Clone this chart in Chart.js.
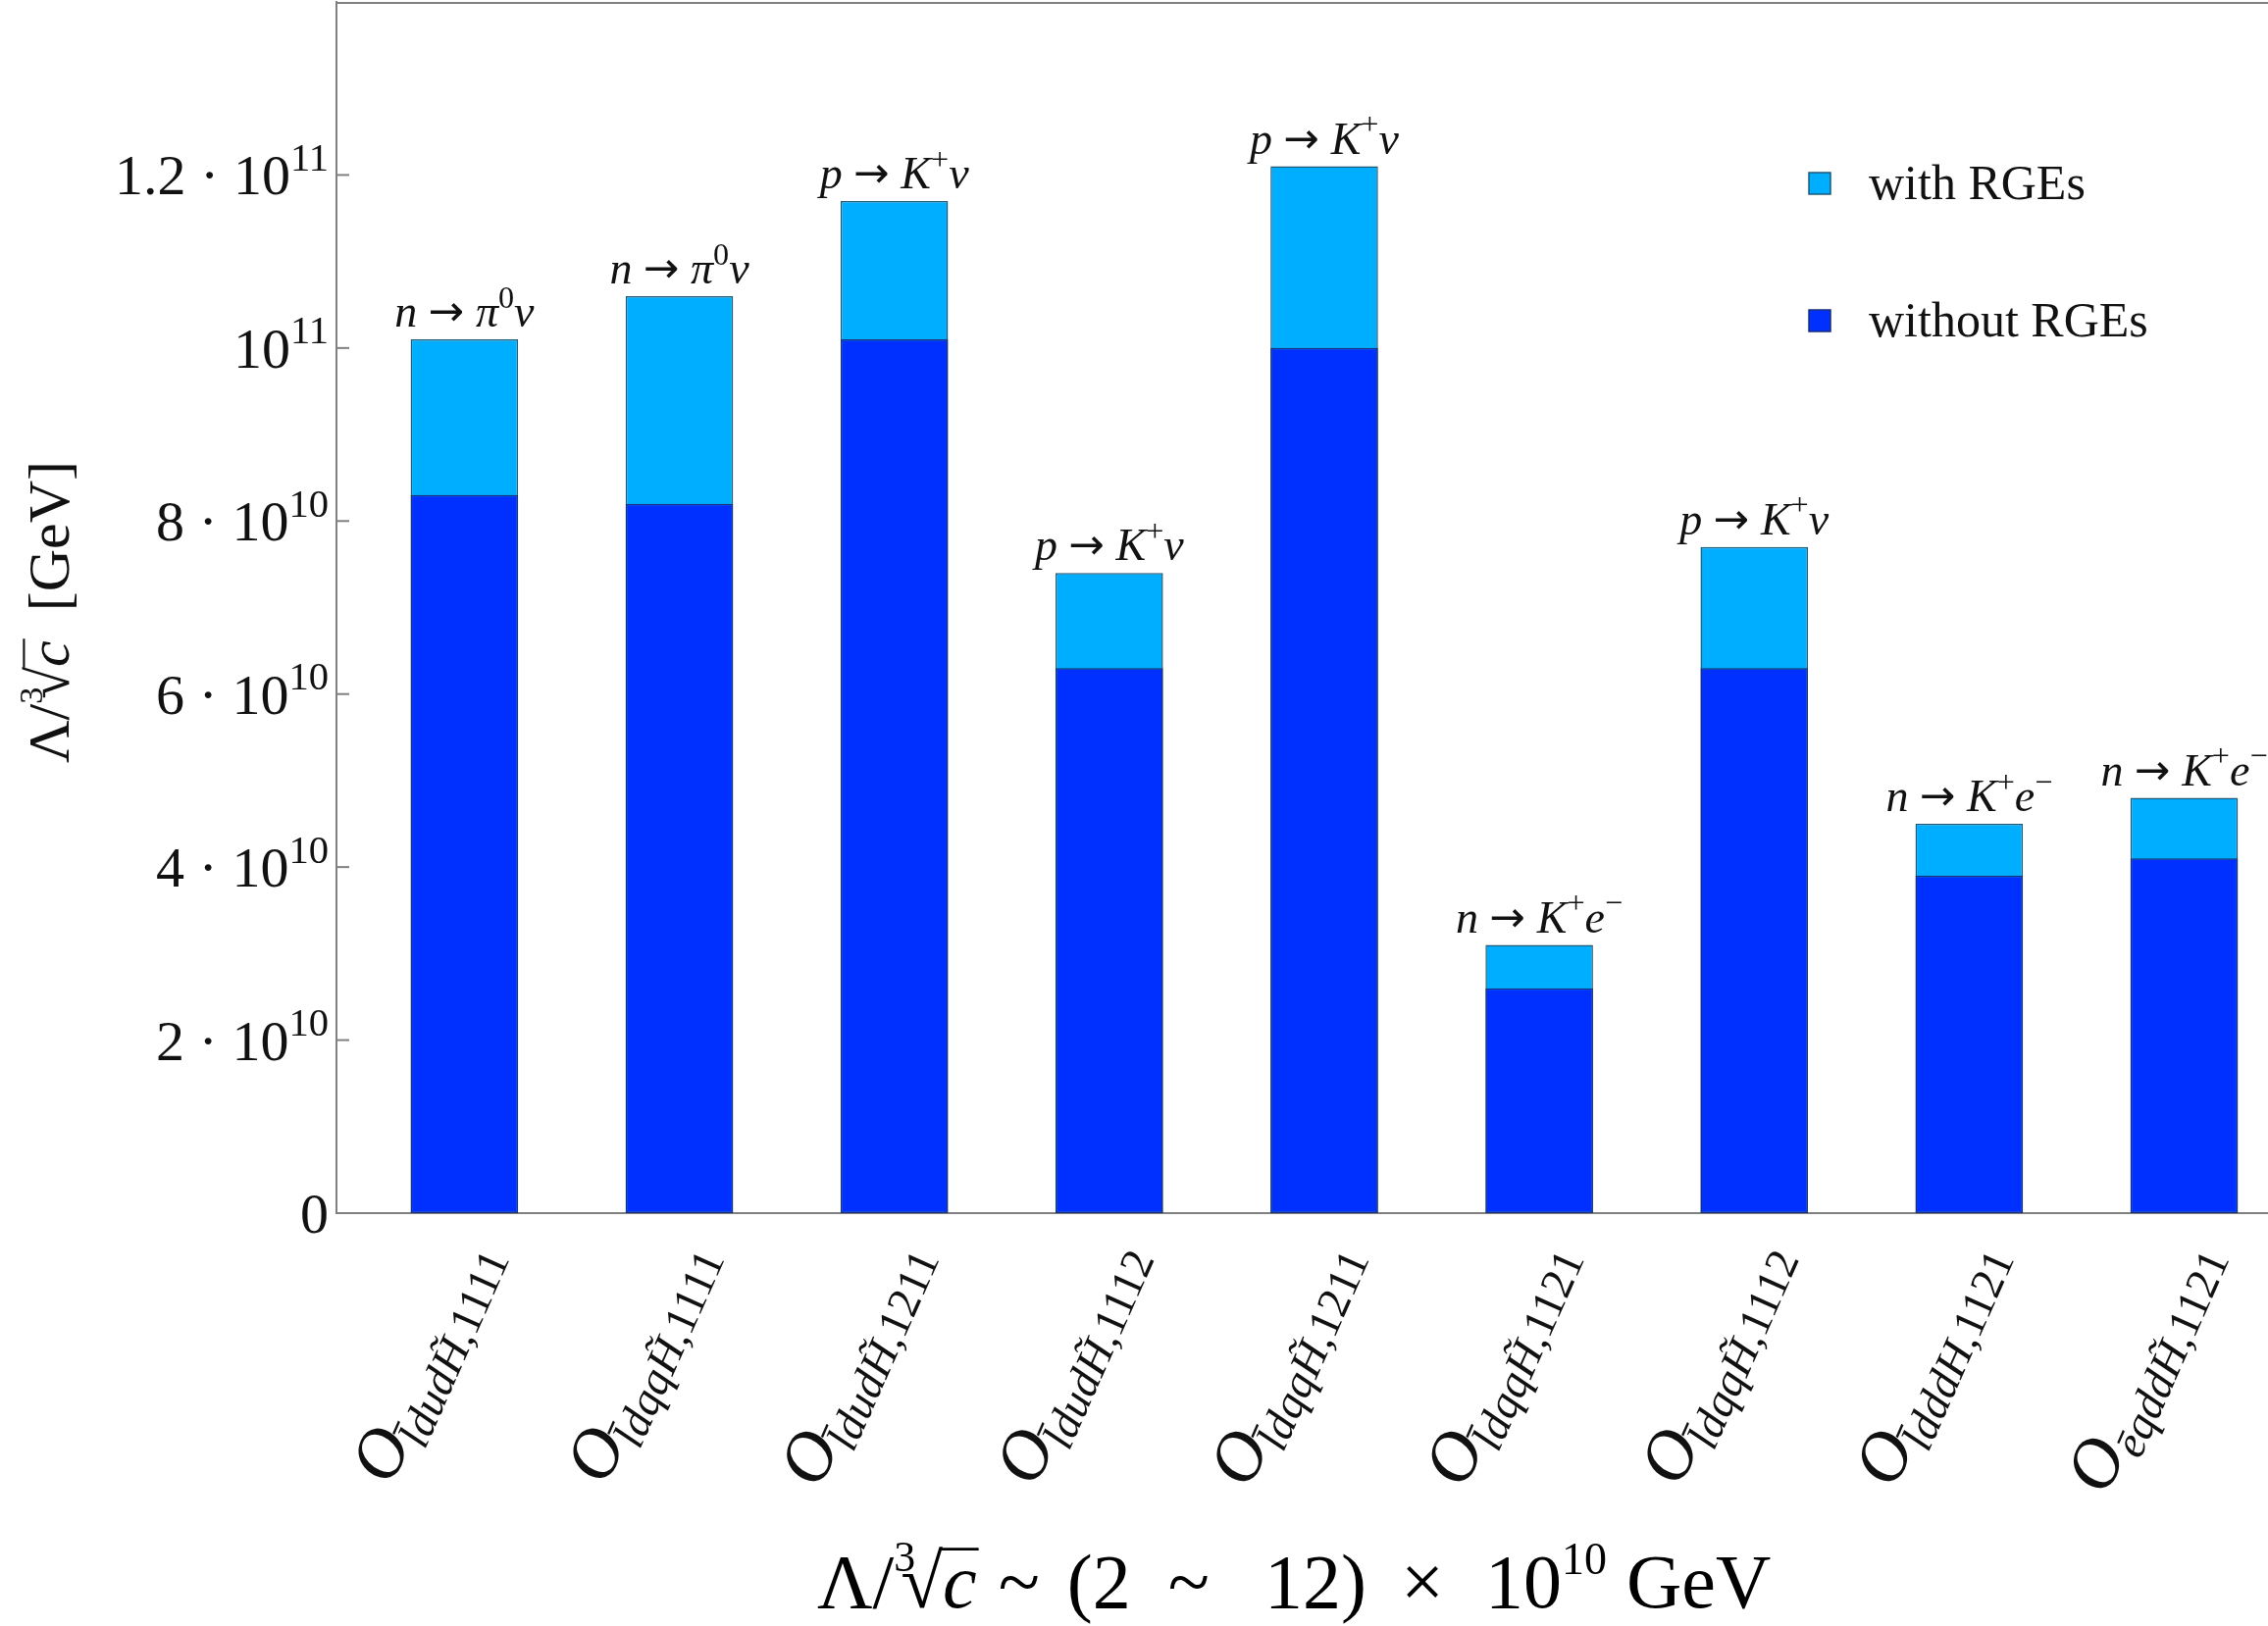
<!DOCTYPE html>
<html>
<head>
<meta charset="utf-8">
<title>Proton and neutron decay bounds</title>
<script src="https://cdn.jsdelivr.net/npm/chart.js@4.4.1/dist/chart.umd.min.js"></script>
<style>
  html, body { margin: 0; padding: 0; background: #ffffff; }
  canvas { display: block; }
</style>
</head>
<body>
<canvas id="chart" width="2312" height="1658"></canvas>
<script>
// Operators (x categories), written with ^{..} / _{..} for super/subscripts
const operators = [
  'O_{l̄dudH̃,1111}',
  'O_{l̄dqqH̃,1111}',
  'O_{l̄dudH̃,1211}',
  'O_{l̄dudH̃,1112}',
  'O_{l̄dqqH̃,1211}',
  'O_{l̄dqqH̃,1121}',
  'O_{l̄dqqH̃,1112}',
  'O_{l̄dddH,1121}',
  'O_{ēqddH̃,1121}'
];
// Dominant decay channel written above each bar
const channels = [
  'n → π^{0}ν',
  'n → π^{0}ν',
  'p → K^{+}ν',
  'p → K^{+}ν',
  'p → K^{+}ν',
  'n → K^{+}e^{−}',
  'p → K^{+}ν',
  'n → K^{+}e^{−}',
  'n → K^{+}e^{−}'
];
// Λ / c^(1/3) in GeV
const withRGEs    = [1.01e11, 1.06e11, 1.17e11, 0.74e11, 1.21e11, 0.31e11, 0.77e11, 0.45e11, 0.48e11];
const withoutRGEs = [0.83e11, 0.82e11, 1.01e11, 0.63e11, 1.00e11, 0.26e11, 0.63e11, 0.39e11, 0.41e11];
const seriesNames = ['with RGEs', 'without RGEs'];
const yTicks = [0, 2e10, 4e10, 6e10, 8e10, 1e11, 1.2e11];

const LIGHT = '#00AEFF';
const DARK = '#0030FF';
const AXIS = '#808080';
const SERIF = '"Liberation Serif", "DejaVu Serif", serif';
const ARROW_FONT = '"DejaVu Sans", sans-serif';

// ---------- small math-text renderer ----------
function parse(str) {
  const out = [];
  let i = 0;
  while (i < str.length) {
    const c = str[i];
    if ((c === '^' || c === '_') && str[i + 1] === '{') {
      const end = str.indexOf('}', i);
      out.push({ s: str.slice(i + 2, end), lvl: c === '^' ? 1 : -1 });
      i = end + 1;
    } else {
      let j = i;
      while (j < str.length && !((str[j] === '^' || str[j] === '_') && str[j + 1] === '{')) j++;
      out.push({ s: str.slice(i, j), lvl: 0 });
      i = j;
    }
  }
  return out;
}
function clusters(s) {
  const out = [];
  for (const ch of Array.from(s)) {
    if (/[\u0300-\u036f]/.test(ch) && out.length) out[out.length - 1] += ch;
    else out.push(ch);
  }
  return out;
}
function styleOf(cl) {
  if (cl === '→') return 'arrow';
  return /^[a-zA-Z\u0100-\u017fα-ω]/.test(cl) ? 'it' : 'rm';
}

function mathRuns(str, size, o) {
  const runs = [];
  for (const tok of parse(str)) {
    const sz = tok.lvl ? size * o.script : size;
    const dy = tok.lvl > 0 ? -size * o.sup : (tok.lvl < 0 ? size * o.sub : 0);
    let cur = null;
    for (const cl of clusters(tok.s)) {
      const st = styleOf(cl);
      if (cur && cur.st === st) cur.text += cl;
      else {
        cur = { text: cl, st, it: st === 'it', size: sz, dy };
        if (st === 'arrow') { cur.fam = ARROW_FONT; cur.size = sz * 0.95; cur.dy = dy - sz * 0.02; }
        runs.push(cur);
      }
    }
  }
  return runs;
}
function runFont(r) { return (r.it ? 'italic ' : '') + r.size + 'px ' + (r.fam || SERIF); }
function measureRuns(ctx, runs) {
  let w = 0;
  for (const r of runs) {
    ctx.font = runFont(r);
    r.w = ctx.measureText(r.text).width + (r.gap || 0);
    w += r.w;
  }
  return w;
}
function drawRuns(ctx, runs, x, y, align) {
  const w = measureRuns(ctx, runs);
  let cx = align === 'right' ? x - w : (align === 'center' ? x - w / 2 : x);
  ctx.textAlign = 'left';
  ctx.textBaseline = 'alphabetic';
  for (const r of runs) {
    ctx.font = runFont(r);
    ctx.fillText(r.text, cx, y + (r.dy || 0));
    if (r.over) {
      const oy = y - r.size * r.over;
      ctx.save();
      ctx.lineWidth = Math.max(2, r.size * 0.035);
      ctx.strokeStyle = ctx.fillStyle;
      ctx.beginPath();
      ctx.moveTo(cx - 1, oy);
      ctx.lineTo(cx + r.w - (r.gap || 0) + 2, oy);
      ctx.stroke();
      ctx.restore();
    }
    cx += r.w;
  }
  return w;
}
function tickText(v) {
  if (v === 0) return '0';
  const e = Math.floor(Math.log10(v) + 1e-9);
  const m = Math.round(v / Math.pow(10, e) * 10) / 10;
  return (m === 1 ? '' : m + ' · ') + '10^{' + e + '}';
}

// ---------- decorations drawn on top of the chart ----------
const decor = {
  id: 'decor',
  afterDraw(chart) {
    const { ctx, chartArea: a, scales: { x, y } } = chart;
    ctx.save();

    // top frame line
    ctx.strokeStyle = AXIS;
    ctx.lineWidth = 2;
    ctx.beginPath();
    ctx.moveTo(a.left - 1, a.top + 1);
    ctx.lineTo(a.right, a.top + 1);
    ctx.stroke();

    // inward y tick marks and labels
    ctx.fillStyle = '#111';
    for (const v of yTicks) {
      const py = y.getPixelForValue(v);
      if (v !== 0) {
        ctx.beginPath();
        ctx.moveTo(a.left, py);
        ctx.lineTo(a.left + 13, py);
        ctx.stroke();
      }
      drawRuns(ctx, mathRuns(tickText(v), 58, { script: 0.7, sup: 0.42 }), a.left - 8, py + 20, 'right');
    }

    // operator names under the bars, tilted
    operators.forEach((name, i) => {
      const px = x.getPixelForValue(i + 1);
      ctx.save();
      ctx.translate(px + 32, a.bottom + 40);
      ctx.rotate(-66 * Math.PI / 180);
      const runs = mathRuns(name, 72, { script: 0.64, sub: 0.22 });
      runs[0].gap = -4;
      drawRuns(ctx, runs, 0, 0, 'right');
      ctx.restore();
    });

    // decay channel above each bar
    const meta = chart.getDatasetMeta(0);
    channels.forEach((ch, i) => {
      const bar = meta.data[i];
      drawRuns(ctx, mathRuns(ch, 46, { script: 0.7, sup: 0.42 }), bar.x, bar.y - 13, 'center');
    });

    // legend inside the plot
    const colors = [LIGHT, DARK];
    const rows = [187, 327];
    seriesNames.forEach((name, i) => {
      const cy = rows[i];
      ctx.fillStyle = colors[i];
      ctx.fillRect(1844, cy - 11, 22, 22);
      ctx.strokeStyle = i === 0 ? '#1d5a78' : '#1a2f78';
      ctx.lineWidth = 1.5;
      ctx.strokeRect(1844, cy - 11, 22, 22);
      ctx.fillStyle = '#111';
      ctx.font = '50px ' + SERIF;
      ctx.textAlign = 'left';
      ctx.textBaseline = 'alphabetic';
      ctx.fillText(name, 1905, cy + 16);
    });

    // y axis title
    ctx.save();
    ctx.translate(70, 624);
    ctx.rotate(-Math.PI / 2);
    ctx.fillStyle = '#111';
    drawRuns(ctx, [
      { text: 'Λ/', size: 60 },
      { text: '3', size: 34, dy: -27, gap: -12 },
      { text: '√', size: 60 },
      { text: 'c', it: true, size: 60, over: 0.76 },
      { text: '  [GeV]', size: 60 }
    ], 0, 0, 'center');
    ctx.restore();

    // x axis title
    ctx.fillStyle = '#000';
    drawRuns(ctx, [
      { text: 'Λ/', size: 78 },
      { text: '3', size: 44, dy: -37, gap: -15 },
      { text: '√', size: 78 },
      { text: 'c', it: true, size: 78, over: 0.76, gap: 22 },
      { text: '~', size: 78, gap: 28 },
      { text: '(2', size: 78, gap: 38 },
      { text: '~', size: 78, gap: 56 },
      { text: '12)', size: 78, gap: 35 },
      { text: '×', size: 78, gap: 42 },
      { text: '10', size: 78 },
      { text: '10', size: 46, dy: -34, gap: 20 },
      { text: 'GeV', size: 78 }
    ], 833, 1639, 'left');

    ctx.restore();
  }
};

new Chart(document.getElementById('chart').getContext('2d'), {
  type: 'bar',
  data: {
    datasets: [
      {
        label: seriesNames[0],
        data: withRGEs.map((v, i) => ({ x: i + 1, y: v })),
        backgroundColor: LIGHT,
        borderColor: '#1d5a78',
        borderWidth: 1.5,
        borderSkipped: false,
        grouped: false,
        order: 1
      },
      {
        label: seriesNames[1],
        data: withoutRGEs.map((v, i) => ({ x: i + 1, y: v })),
        backgroundColor: DARK,
        borderColor: '#1a2f78',
        borderWidth: 1.5,
        borderSkipped: false,
        grouped: false,
        order: 0
      }
    ]
  },
  options: {
    responsive: false,
    animation: false,
    devicePixelRatio: 1,
    layout: { padding: { top: 2, right: 0, bottom: 0, left: 0 } },
    datasets: { bar: { barPercentage: 0.5, categoryPercentage: 1.0 } },
    plugins: { legend: { display: false }, tooltip: { enabled: false } },
    scales: {
      x: {
        type: 'linear',
        min: 0.405,
        max: 9.39,
        offset: false,
        grid: { display: false },
        ticks: { display: false },
        afterBuildTicks: (s) => { s.ticks = operators.map((_, i) => ({ value: i + 1 })); },
        border: { color: AXIS, width: 2 },
        afterFit: (s) => { s.height = 421; }
      },
      y: {
        min: 0,
        max: 1.4e11,
        ticks: { display: false, stepSize: 2e10 },
        grid: { display: false },
        border: { color: AXIS, width: 2 },
        afterFit: (s) => { s.width = 343; }
      }
    }
  },
  plugins: [decor]
});
</script>
</body>
</html>
